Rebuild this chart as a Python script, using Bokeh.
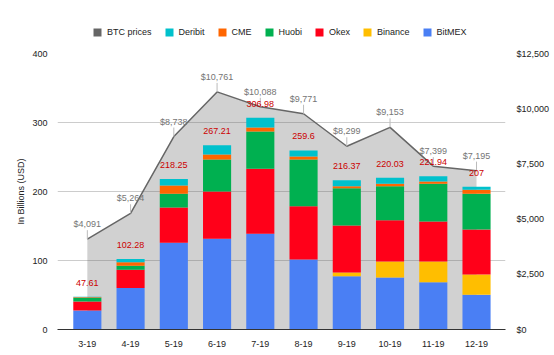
from bokeh.plotting import figure
from bokeh.layouts import column
from bokeh.models import (Range1d, LinearAxis, FixedTicker, Legend, LegendItem,
                          ColumnDataSource, NumeralTickFormatter)
from bokeh.core.properties import value
from bokeh.embed import file_html
from bokeh.resources import INLINE

months = ["3-19", "4-19", "5-19", "6-19", "7-19", "8-19", "9-19", "10-19", "11-19", "12-19"]
bitmex = [27.5, 60.0, 125.6, 131.4, 138.6, 101.4, 77.3, 75.4, 68.6, 50.2]
binance = [0.0, 0.0, 0.0, 0.0, 0.0, 0.0, 5.3, 23.2, 30.0, 29.5]
okex = [13.1, 26.5, 51.2, 68.6, 94.3, 77.3, 68.1, 59.9, 57.9, 65.2]
huobi = [5.2, 5.8, 19.8, 46.4, 54.1, 67.7, 54.1, 49.2, 54.6, 51.7]
cme = [0.8, 5.3, 12.1, 7.2, 5.8, 4.3, 2.9, 3.4, 3.4, 5.8]
deribit = [1.01, 4.68, 9.55, 13.61, 14.18, 8.9, 8.67, 8.93, 7.44, 4.6]
totals = [47.61, 102.28, 218.25, 267.21, 306.98, 259.6, 216.37, 220.03, 221.94, 207]
btc = [4091, 5264, 8738, 10761, 10088, 9771, 8299, 9153, 7399, 7195]
left_ticks = [0, 100, 200, 300, 400]
right_ticks = [0, 2500, 5000, 7500, 10000, 12500]

FONT = "Liberation Sans"
idx = list(range(len(months)))
names = ["BitMEX", "Binance", "Okex", "Huobi", "CME", "Deribit"]
colors = ["#4a7ff4", "#ffbe00", "#ff0019", "#00b050", "#ff6600", "#00c1cc"]
color_of = dict(zip(names, colors))
BTC_COLOR = "#666666"

src = ColumnDataSource(dict(x=idx, BitMEX=bitmex, Binance=binance, Okex=okex,
                            Huobi=huobi, CME=cme, Deribit=deribit))

p = figure(width=554, height=315, output_backend="svg", toolbar_location=None,
           x_range=Range1d(-0.69, 9.67), y_range=Range1d(0, 400),
           min_border_left=57, min_border_right=49, min_border_top=13, min_border_bottom=26)
p.extra_y_ranges = {"price": Range1d(0, 12500)}
p.outline_line_color = None

# BTC price area
p.varea(x=idx, y1=[0] * len(idx), y2=btc, y_range_name="price",
        fill_color=BTC_COLOR, fill_alpha=0.3)
p.line(idx, btc, y_range_name="price", line_color=BTC_COLOR, line_width=1.5)

# stems for price labels
stem = 9 / 276 * 12500
p.segment(x0=idx, y0=btc, x1=idx, y1=[b + stem for b in btc], y_range_name="price",
          line_color="#bbbbbb", line_width=1)

bars = p.vbar_stack(names, x="x", width=0.65, source=src, fill_color=colors, line_color=None)

p.text(x=idx, y=btc, text=["$" + f"{b:,}" for b in btc], y_range_name="price",
       y_offset=-15, text_align="center", text_baseline="middle",
       text_font=value(FONT), text_font_size="9px", text_color="#757575")
p.text(x=idx, y=totals, text=[f"{t:g}" for t in totals],
       y_offset=-14, text_align="center", text_baseline="middle",
       text_font=value(FONT), text_font_size="9px", text_color="#cc0000")

# axes
xa = p.xaxis[0]
xa.ticker = FixedTicker(ticks=idx)
xa.major_label_overrides = {i: m for i, m in zip(idx, months)}
xa.axis_line_color = "#333333"
xa.major_tick_line_color = None
xa.minor_tick_line_color = None
xa.major_label_standoff = 5
xa.major_label_text_font = FONT
xa.major_label_text_font_size = "9px"
xa.major_label_text_color = "#222222"

ya = p.yaxis[0]
ya.ticker = FixedTicker(ticks=left_ticks)
ya.axis_line_color = None
ya.major_tick_line_color = None
ya.minor_tick_line_color = None
ya.major_label_standoff = 4
ya.major_label_text_font = FONT
ya.major_label_text_font_size = "9px"
ya.major_label_text_color = "#222222"
ya.axis_label = "In Billions (USD)"
ya.axis_label_text_font = FONT
ya.axis_label_text_font_style = "normal"
ya.axis_label_text_font_size = "9px"
ya.axis_label_text_color = "#222222"
ya.axis_label_standoff = 3

ra = LinearAxis(y_range_name="price", ticker=FixedTicker(ticks=right_ticks),
                formatter=NumeralTickFormatter(format="$0,0"))
ra.axis_line_color = None
ra.major_tick_line_color = None
ra.minor_tick_line_color = None
ra.major_label_standoff = 5
ra.major_label_text_font = FONT
ra.major_label_text_font_size = "9px"
ra.major_label_text_color = "#222222"
p.add_layout(ra, "right")

p.xgrid.visible = False
p.ygrid.grid_line_color = "#cccccc"

# legend strip (separate figure so nothing is clipped)
lf = figure(width=554, height=40, output_backend="svg", toolbar_location=None,
            x_range=Range1d(0, 1), y_range=Range1d(0, 1),
            x_axis_location=None, y_axis_location=None, min_border=0)
lf.outline_line_color = None
lf.grid.visible = False
items = []
legend_order = [("BTC prices", BTC_COLOR)] + [(n, color_of[n]) for n in
                                             ["Deribit", "CME", "Huobi", "Okex", "Binance", "BitMEX"]]
for label, col in legend_order:
    r = lf.vbar(x=[0.5], top=[0], width=0.0, fill_color=col, line_color=None)
    items.append(LegendItem(label=label, renderers=[r]))
legend = Legend(items=items, orientation="horizontal", location=(35, 3),
                glyph_width=10, glyph_height=10, label_height=10, label_standoff=5,
                spacing=12, padding=0, margin=0, border_line_color=None,
                background_fill_alpha=0, label_text_font=FONT,
                label_text_font_size="9px", label_text_color="#222222")
lf.add_layout(legend, "center")

layout = column(lf, p, spacing=0)
open("out.html", "w").write(file_html(layout, INLINE))
